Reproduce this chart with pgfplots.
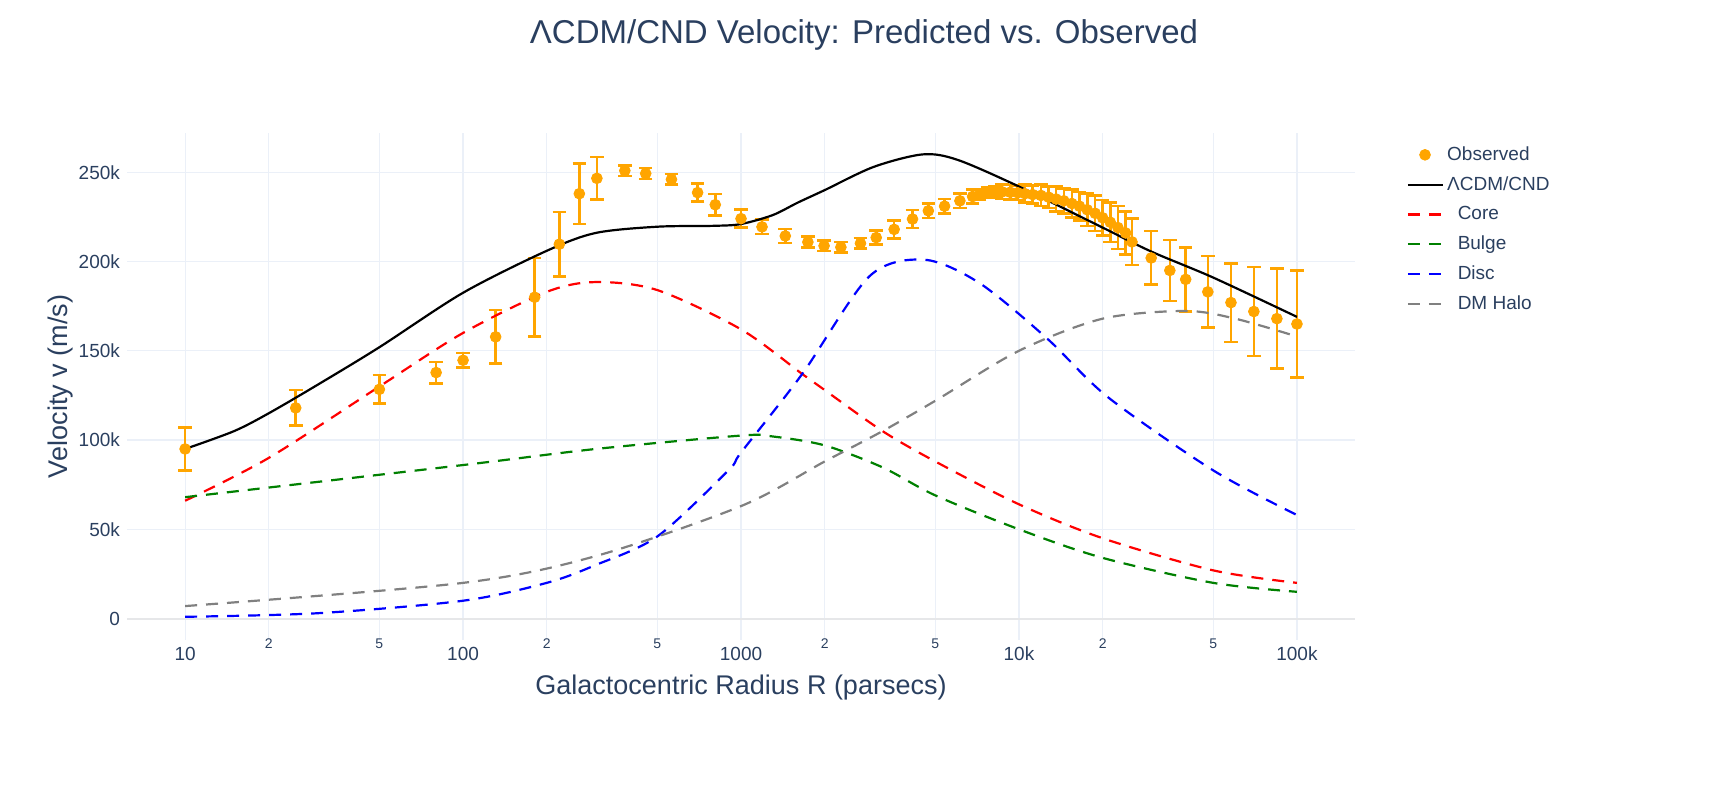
\documentclass[border=0pt]{standalone}
\usepackage{pgfplots}
\pgfplotsset{compat=1.18}
\usepackage{pgfplotstable}
\usepackage{fontspec}
\setmainfont{Liberation Sans}
\definecolor{txt}{HTML}{2A3F5F}
\definecolor{grd}{HTML}{EBF0F8}
\definecolor{obs}{HTML}{FFA500}
\pgfplotstableread{
x y e
10 95 12
25 118 10
50 128.4 8
80 137.8 6
100 144.7 4
131 157.8 15
181 180 22
222 209.7 18
262 238 17
303 246.6 12
382 250.9 3
454 249.3 3
562 246 3
698 238.6 5
808 231.8 6
1000 224 5
1190 219.4 4
1443 214.3 4
1740 210.9 3
1990 208.8 3
2287 208 3
2690 210.2 3
3065 213.4 4
3556 218 5
4140 223.8 5
4720 228.4 4
5400 231 4
6130 234 4
6810 236.4 4
7200 237.5 3
7700 238.5 3
8200 239 3
8700 239 4
9300 238.8 4
9900 238.5 4
10500 238 5
11200 237.5 5
12000 237 6
12800 236 6
13600 235 7
14500 234 7
15500 232.5 8
16500 231 8
17600 229 9
18800 227 10
20000 224.5 10
21300 222 11
22700 219 12
24200 216 12
25500 211 13
29900 202 15
34900 195 17
39800 190 18
47800 183 20
57900 177 22
70000 172 25
84700 168 28
100000 165 30
}\obsdata
\begin{document}
\begin{tikzpicture}
\begin{axis}[
  scale only axis, width=614pt, height=253.5pt,
  xmode=log, xmin=6.18, xmax=161800, ymin=-12, ymax=272,
  axis line style={draw=none}, tick style={draw=none},
  grid=major, major grid style={grd, line width=0.6pt},
  xtick={10,100,1000,10000,100000},
  xticklabels={10,100,1000,10k,100k},
  extra x ticks={20,50,200,500,2000,5000,20000,50000},
  extra x tick labels={2,5,2,5,2,5,2,5},
  extra x tick style={grid=major, tick label style={font=\fontsize{7}{8}\selectfont, yshift=4pt}},
  ytick={0,50,100,150,200,250},
  yticklabels={0,50k,100k,150k,200k,250k},
  tick label style={font=\fontsize{9.5}{11}\selectfont, text=txt},
  /pgf/number format/assume math mode=true,
  xlabel={Galactocentric Radius R (parsecs)},
  ylabel={Velocity v (m/s)},
  label style={font=\fontsize{13.5}{15}\selectfont, text=txt},
  xlabel style={at={(axis description cs:0.5,0)}, yshift=-14pt},
  ylabel style={yshift=-4pt},
  legend style={at={(1.037,0.99)}, anchor=north west, draw=none, fill=none,
    font=\fontsize{9.5}{11}\selectfont, text=txt, row sep=2.6pt},
  legend cell align=left,
  clip=false,
]
\addplot[grd!60!gray!40, line width=1pt, forget plot] coordinates {(6.18,0) (161800,0)};
\addplot[only marks, mark=*, mark size=2.7pt, color=obs,
  error bars/.cd, y dir=both, y explicit, error bar style={line width=1.3pt, obs},
  error mark options={rotate=90, mark size=3.4pt, line width=1.3pt, obs}]
  table[x=x, y=y, y error=e]{\obsdata};
\addlegendentry{Observed}
\addplot[black, line width=1.1pt, smooth] coordinates {
(10,95)(15,105)(20,115)(30,131)(50,152)(100,182.5)(200,206)(300,216)(500,219.5)(800,220)(1000,221)(1300,226)(1600,233)(2000,240)(3000,253)(4500,260)(6000,257)(10000,242)(20000,219)(30000,205.5)(50000,191)(100000,169)};
\addlegendentry{ΛCDM/CND}
\addplot[red, line width=1.1pt, dash pattern=on 6pt off 4.5pt, smooth] coordinates {
(10,66)(20,90)(50,130)(100,160)(200,183)(300,188.5)(500,184)(1000,162)(1660,137)(2000,128)(3230,105)(5000,88)(10000,64)(20000,45)(50000,27)(100000,20)};
\addlegendentry{\ \ Core}
\addplot[green!50!black, line width=1.1pt, dash pattern=on 6pt off 4.5pt, smooth] coordinates {
(10,68)(100,86)(300,95)(1000,102.5)(1300,102)(2000,97)(3230,84.7)(5000,69)(10000,50)(20000,34)(50000,20)(100000,15)};
\addlegendentry{\ \ Bulge}
\addplot[blue, line width=1.1pt, dash pattern=on 6pt off 4.5pt, smooth] coordinates {
(10,1)(30,3)(100,10)(200,20)(300,30)(500,46)(900,83)(1000,93)(1660,137)(2900,191.8)(4570,201)(7200,188)(12600,157)(20900,124)(50000,83)(100000,58)};
\addlegendentry{\ \ Disc}
\addplot[gray, line width=1.1pt, dash pattern=on 6pt off 4.5pt, smooth] coordinates {
(10,7)(100,20)(300,35)(1000,63)(2000,88)(3230,105)(5000,122)(10000,150)(20000,168)(39700,172.3)(60000,168)(100000,158)};
\addlegendentry{\ \ DM Halo}
\end{axis}
\path (-63.5pt,-83.5pt) rectangle (800.5pt,320pt);
\node[text=txt, font=\fontsize{16.5}{19}\selectfont] at (368.5pt,302.5pt) {ΛCDM/CND Velocity: Predicted vs. Observed};
\end{tikzpicture}
\end{document}
